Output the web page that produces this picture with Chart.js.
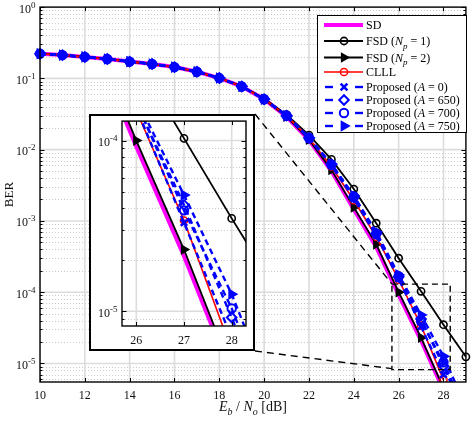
<!DOCTYPE html>
<html>
<head>
<meta charset="utf-8">
<script src="https://cdn.jsdelivr.net/npm/chart.js@4.4.1/dist/chart.umd.min.js"></script>
<style>
  html, body { margin: 0; padding: 0; background: #fff; }
  #wrap { position: relative; width: 473px; height: 422px; }
  #main { position: absolute; left: 0; top: 0; }
  #inset { position: absolute; left: 89px; top: 114px; background: #fff; }
</style>
</head>
<body>
<div id="wrap">
  <canvas id="main" width="473" height="422"></canvas>
  <canvas id="inset" width="166" height="237"></canvas>
</div>
<script>
// Eb/No (dB) and BER of each detector
const snrDb = [10, 11, 12, 13, 14, 15, 16, 17, 18, 19, 20, 21, 22, 23, 24, 25, 26, 27, 28, 29];
const berSD      = [0.222, 0.212, 0.200, 0.187, 0.172, 0.159, 0.144, 0.124, 0.101, 0.077, 0.051, 0.029, 0.0136, 0.0050, 1.45e-3, 4.3e-4, 9.2e-5, 2.1e-5, 4.2e-6, null];
const berFSD1    = [0.222, 0.212, 0.200, 0.187, 0.172, 0.159, 0.144, 0.124, 0.101, 0.078, 0.052, 0.031, 0.0160, 0.0073, 2.8e-3, 9.3e-4, 3.0e-4, 1.03e-4, 3.5e-5, 1.24e-5];
const berFSD2    = [0.222, 0.212, 0.200, 0.187, 0.172, 0.159, 0.144, 0.124, 0.101, 0.077, 0.051, 0.029, 0.0138, 0.0052, 1.55e-3, 4.7e-4, 1.0e-4, 2.3e-5, 4.5e-6, null];
const berCLLL    = [0.222, 0.212, 0.200, 0.187, 0.172, 0.159, 0.144, 0.124, 0.101, 0.077, 0.051, 0.030, 0.0144, 0.0058, 1.95e-3, 6.0e-4, 1.5e-4, 3.4e-5, 5.9e-6, null];
const berPropA0   = [0.222, 0.212, 0.200, 0.187, 0.172, 0.159, 0.144, 0.124, 0.101, 0.077, 0.051, 0.030, 0.0145, 0.0060, 2.05e-3, 6.2e-4, 1.55e-4, 3.3e-5, 7.0e-6, null];
const berPropA650 = [0.222, 0.212, 0.200, 0.187, 0.172, 0.159, 0.144, 0.124, 0.101, 0.077, 0.051, 0.030, 0.0146, 0.0062, 2.15e-3, 6.6e-4, 1.65e-4, 4.2e-5, 9.2e-6, 1.8e-6];
const berPropA700 = [0.222, 0.212, 0.200, 0.187, 0.172, 0.159, 0.144, 0.124, 0.101, 0.077, 0.051, 0.030, 0.0146, 0.0062, 2.2e-3, 6.7e-4, 1.68e-4, 3.9e-5, 1.04e-5, 2.0e-6];
const berPropA750 = [0.222, 0.212, 0.200, 0.187, 0.172, 0.159, 0.144, 0.124, 0.101, 0.077, 0.051, 0.030, 0.0147, 0.0063, 2.25e-3, 7.0e-4, 1.75e-4, 4.8e-5, 1.26e-5, 2.5e-6];

// axes
const xTicksMain = [10, 12, 14, 16, 18, 20, 22, 24, 26, 28];
const yExpMain = [0, -1, -2, -3, -4, -5];
const xTicksInset = [26, 27, 28];
const yExpInset = [-4, -5];
const zoomX = [25.7, 28.3];
const zoomY = [8.2e-6, 1.3e-4];

const FONT = '"Liberation Serif", "Times New Roman", serif';
const BLUE = '#0000ff';

// legend text pieces: [text, kind]  kind: '' | 'i' | 'isub'
const series = [
  { data: berSD, name: [['SD', '']], color: '#ff00ff', width: 4, dash: [], marker: null },
  { data: berFSD1, name: [['FSD (', ''], ['N', 'i'], ['p', 'isub'], [' = 1)', '']], color: '#000', width: 1.8, dash: [], marker: 'circle', r: 3.6, mw: 1.6, fill: false },
  { data: berFSD2, name: [['FSD (', ''], ['N', 'i'], ['p', 'isub'], [' = 2)', '']], color: '#000', width: 1.8, dash: [], marker: 'triangle', r: 5, mw: 1.2, fill: true },
  { data: berCLLL, name: [['CLLL', '']], color: '#ff0000', width: 1.6, dash: [], marker: 'circle', r: 3.6, mw: 1.5, fill: false },
  { data: berPropA0, name: [['Proposed (', ''], ['A', 'i'], [' = 0)', '']], color: BLUE, width: 2.4, dash: [6, 4], marker: 'crossRot', r: 4.5, mw: 2.6, fill: false },
  { data: berPropA650, name: [['Proposed (', ''], ['A', 'i'], [' = 650)', '']], color: BLUE, width: 2.4, dash: [6, 4], marker: 'rectRot', r: 4.8, mw: 2, fill: false },
  { data: berPropA700, name: [['Proposed (', ''], ['A', 'i'], [' = 700)', '']], color: BLUE, width: 2.4, dash: [6, 4], marker: 'circle', r: 4.2, mw: 2, fill: false },
  { data: berPropA750, name: [['Proposed (', ''], ['A', 'i'], [' = 750)', '']], color: BLUE, width: 2.4, dash: [6, 4], marker: 'triangle', r: 5.2, mw: 1.5, fill: true },
];

function makeDatasets(clip) {
  return series.map((s, i) => ({
    data: snrDb.map((x, j) => ({ x: x, y: s.data[j] })),
    borderColor: s.color,
    borderWidth: s.width,
    borderDash: s.dash,
    pointStyle: s.marker || 'circle',
    pointRadius: s.marker ? s.r : 0,
    pointBorderColor: s.color,
    pointBackgroundColor: s.fill ? s.color : 'rgba(0,0,0,0)',
    pointBorderWidth: s.mw || 1,
    pointRotation: s.marker === 'triangle' ? 90 : 0,
    tension: 0,
    spanGaps: false,
    order: series.length - i,
    clip: clip
  }));
}

function richText(ctx, x, y, parts, size, align) {
  const fontOf = k => (k.indexOf('i') === 0 ? 'italic ' : '') +
    (k.indexOf('sub') >= 0 || k === 'sup' ? Math.round(size * 0.72) : size) + 'px ' + FONT;
  let w = 0;
  parts.forEach(p => { ctx.font = fontOf(p[1]); w += ctx.measureText(p[0]).width; });
  let cx = align === 'center' ? x - w / 2 : align === 'right' ? x - w : x;
  ctx.textAlign = 'left';
  ctx.textBaseline = 'alphabetic';
  parts.forEach(p => {
    ctx.font = fontOf(p[1]);
    const dy = p[1].indexOf('sub') >= 0 ? size * 0.32 : p[1] === 'sup' ? -size * 0.42 : 0;
    ctx.fillText(p[0], cx, y + dy);
    cx += ctx.measureText(p[0]).width;
  });
}

function drawMarker(ctx, type, x, y, r, color, fill, lw) {
  ctx.save();
  ctx.setLineDash([]);
  ctx.strokeStyle = color;
  ctx.fillStyle = color;
  ctx.lineWidth = lw;
  ctx.beginPath();
  if (type === 'circle') {
    ctx.arc(x, y, r, 0, Math.PI * 2);
  } else if (type === 'triangle') {
    ctx.moveTo(x + r, y);
    ctx.lineTo(x - r / 2, y - r * 0.866);
    ctx.lineTo(x - r / 2, y + r * 0.866);
    ctx.closePath();
  } else if (type === 'rectRot') {
    ctx.moveTo(x, y - r); ctx.lineTo(x + r, y); ctx.lineTo(x, y + r); ctx.lineTo(x - r, y); ctx.closePath();
  } else if (type === 'crossRot') {
    const d = r * 0.75;
    ctx.moveTo(x - d, y - d); ctx.lineTo(x + d, y + d);
    ctx.moveTo(x + d, y - d); ctx.lineTo(x - d, y + d);
  }
  if (fill) ctx.fill();
  ctx.stroke();
  ctx.restore();
}

function hline(ctx, x1, x2, y) { ctx.beginPath(); ctx.moveTo(x1, y); ctx.lineTo(x2, y); ctx.stroke(); }
function vline(ctx, x, y1, y2) { ctx.beginPath(); ctx.moveTo(x, y1); ctx.lineTo(x, y2); ctx.stroke(); }

function minorValues(exps, lo, hi) {
  const out = [];
  for (let e = Math.min(...exps) - 1; e <= Math.max(...exps); e++) {
    for (let m = 2; m <= 9; m++) {
      const v = m * Math.pow(10, e);
      if (v > lo && v < hi) out.push(v);
    }
  }
  return out;
}

// grid, axes box, ticks and tick labels, drawn through each chart's scales
const decor = {
  id: 'decor',
  beforeDatasetsDraw(chart, args, o) {
    const { ctx, chartArea: a, scales: { x, y } } = chart;
    ctx.save();
    ctx.beginPath();
    ctx.rect(a.left, a.top, a.right - a.left, a.bottom - a.top);
    ctx.clip();
    ctx.lineWidth = 1;
    ctx.strokeStyle = '#c9c9c9';
    ctx.setLineDash([1, 2]);
    minorValues(o.yExp, y.min, y.max).forEach(v => hline(ctx, a.left, a.right, Math.round(y.getPixelForValue(v)) + 0.5));
    ctx.setLineDash([]);
    ctx.strokeStyle = '#dcdcdc';
    ctx.lineWidth = 1.6;
    o.yExp.forEach(e => hline(ctx, a.left, a.right, y.getPixelForValue(Math.pow(10, e))));
    o.xTicks.forEach(t => vline(ctx, x.getPixelForValue(t), a.top, a.bottom));
    ctx.restore();
  },
  afterDatasetsDraw(chart, args, o) {
    const { ctx, chartArea: a, scales: { x, y } } = chart;
    ctx.save();
    ctx.strokeStyle = '#000';
    ctx.lineWidth = 1;
    ctx.setLineDash([]);
    // inward ticks
    o.xTicks.forEach(t => {
      const px = Math.round(x.getPixelForValue(t)) + 0.5;
      vline(ctx, px, a.bottom, a.bottom - 4);
      vline(ctx, px, a.top, a.top + 4);
    });
    o.yExp.forEach(e => {
      const py = Math.round(y.getPixelForValue(Math.pow(10, e))) + 0.5;
      hline(ctx, a.left, a.left + 4.5, py);
      hline(ctx, a.right, a.right - 4.5, py);
    });
    minorValues(o.yExp, y.min, y.max).forEach(v => {
      const py = Math.round(y.getPixelForValue(v)) + 0.5;
      hline(ctx, a.left, a.left + 2.5, py);
      hline(ctx, a.right, a.right - 2.5, py);
    });
    ctx.lineWidth = 1.4;
    ctx.strokeRect(a.left, a.top, a.right - a.left, a.bottom - a.top);

    ctx.fillStyle = '#111';
    o.xTicks.forEach(t => richText(ctx, x.getPixelForValue(t), a.bottom + o.xLabelGap, [[String(t), '']], o.tickSize, 'center'));
    o.yExp.forEach(e => {
      const py = y.getPixelForValue(Math.pow(10, e));
      richText(ctx, a.left - 4.5, py + 5.5, [['10', ''], [String(e), 'sup']], o.tickSize, 'right');
    });
    ctx.restore();
    if (o.extra) o.extra(chart);
  }
};

function mainExtras(chart) {
  const { ctx, chartArea: a, scales: { x, y } } = chart;
  ctx.save();
  ctx.fillStyle = '#111';
  // axis titles
  richText(ctx, (a.left + a.right) / 2, 411, [['E', 'i'], ['b', 'isub'], [' / ', ''], ['N', 'i'], ['o', 'isub'], [' [dB]', '']], 14, 'center');
  ctx.save();
  ctx.translate(13, (a.top + a.bottom) / 2);
  ctx.rotate(-Math.PI / 2);
  richText(ctx, 0, 0, [['BER', '']], 13, 'center');
  ctx.restore();

  // zoom rectangle and connector lines to the inset
  const rx1 = x.getPixelForValue(zoomX[0]), rx2 = x.getPixelForValue(zoomX[1]);
  const ry1 = y.getPixelForValue(zoomY[1]), ry2 = y.getPixelForValue(zoomY[0]);
  ctx.strokeStyle = '#000';
  ctx.lineWidth = 1.4;
  ctx.setLineDash([6, 4]);
  ctx.strokeRect(rx1, ry1, rx2 - rx1, ry2 - ry1);
  ctx.setLineDash([7, 5]);
  ctx.beginPath();
  ctx.moveTo(255, 114); ctx.lineTo(rx1, ry1);
  ctx.moveTo(255, 351); ctx.lineTo(rx1, ry2 - 1);
  ctx.stroke();
  ctx.setLineDash([]);

  // legend
  const lx = 317, ly = 15, lw = 149, lh = 117;
  ctx.fillStyle = '#fff';
  ctx.fillRect(lx, ly, lw, lh);
  ctx.strokeStyle = '#000';
  ctx.lineWidth = 1;
  ctx.strokeRect(lx + 0.5, ly + 0.5, lw, lh);
  const rows = [25, 41, 57.5, 72, 87, 100, 113, 126];
  series.forEach((s, i) => {
    const yy = rows[i];
    ctx.strokeStyle = s.color;
    ctx.lineWidth = s.width;
    if (s.dash.length) {
      hline(ctx, 325, 333, yy);
      hline(ctx, 355, 363, yy);
    } else {
      hline(ctx, 324, 363, yy);
    }
    if (s.marker) drawMarker(ctx, s.marker, 344, yy, s.r, s.color, s.fill, s.mw);
    ctx.fillStyle = '#000';
    richText(ctx, 366, yy + 4, s.name, 12, 'left');
  });
  ctx.restore();
}

function insetExtras(chart) {
  const ctx = chart.ctx;
  ctx.save();
  ctx.strokeStyle = '#000';
  ctx.lineWidth = 2;
  ctx.setLineDash([]);
  ctx.strokeRect(1, 1, chart.width - 2, chart.height - 2);
  ctx.restore();
}

new Chart(document.getElementById('main'), {
  type: 'line',
  data: { datasets: makeDatasets({ left: 6, top: 6, right: 6, bottom: 0 }) },
  options: {
    responsive: false,
    animation: false,
    events: [],
    layout: { padding: { top: 5, right: 5, left: 0, bottom: 0 } },
    scales: {
      x: {
        type: 'linear', min: 10, max: 29,
        ticks: { display: false }, grid: { display: false }, border: { display: false },
        afterFit(s) { s.height = 40; }
      },
      y: {
        type: 'logarithmic', min: 5.5e-6, max: 1,
        ticks: { display: false }, grid: { display: false }, border: { display: false },
        afterFit(s) { s.width = 40; }
      }
    },
    plugins: {
      legend: { display: false },
      tooltip: { enabled: false },
      decor: { xTicks: xTicksMain, yExp: yExpMain, tickSize: 12, xLabelGap: 17, extra: mainExtras }
    }
  },
  plugins: [decor]
});

new Chart(document.getElementById('inset'), {
  type: 'line',
  data: { datasets: makeDatasets(0) },
  options: {
    responsive: false,
    animation: false,
    events: [],
    layout: { padding: { top: 7, right: 9, left: 0, bottom: 0 } },
    scales: {
      x: {
        type: 'linear', min: zoomX[0], max: zoomX[1],
        ticks: { display: false }, grid: { display: false }, border: { display: false },
        afterFit(s) { s.height = 25; }
      },
      y: {
        type: 'logarithmic', min: zoomY[0], max: zoomY[1],
        ticks: { display: false }, grid: { display: false }, border: { display: false },
        afterFit(s) { s.width = 33; }
      }
    },
    plugins: {
      legend: { display: false },
      tooltip: { enabled: false },
      decor: { xTicks: xTicksInset, yExp: yExpInset, tickSize: 12, xLabelGap: 18, extra: insetExtras }
    }
  },
  plugins: [decor]
});
</script>
</body>
</html>
